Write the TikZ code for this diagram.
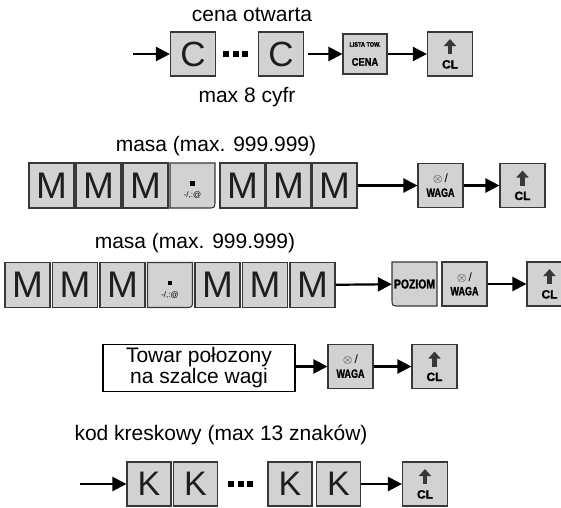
\documentclass[tikz,border=0pt]{standalone}
\usepackage{fontspec}
\setmainfont{Liberation Sans}
\newfontfamily\keyfont{Liberation Sans}[BoldFeatures={FakeBold=1.6}]
\usepackage{graphicx}
\usetikzlibrary{arrows.meta,positioning}

\definecolor{keygray}{HTML}{D2D2D2}
\definecolor{keyline}{HTML}{383838}
\definecolor{inkgray}{HTML}{1E1E1E}

\newcommand{\dotrow}{\rule{6pt}{6pt}\hspace{3.5pt}\rule{6pt}{6pt}\hspace{3.5pt}\rule{6pt}{6pt}}
\newcommand{\wagatext}{{\fontsize{12}{12}\selectfont$\otimes$\,/}\\[1pt]%
  \scalebox{0.75}[1]{\fontsize{12}{12}\selectfont\keyfont\bfseries WAGA}}

\tikzset{
  keyface/.style={draw=keyline,fill=keygray,line width=1.1pt},
  key/.style={keyface,minimum width=45pt,minimum height=45pt,inner sep=0pt,
    font=\fontsize{37}{37}\selectfont,text=inkgray},
  bare/.style={minimum width=45pt,minimum height=45pt,inner sep=0pt},
  fkey/.style={keyface,minimum width=45pt,minimum height=44pt,inner sep=0pt,
    align=center,font=\fontsize{10}{13}\selectfont},
  clkey/.style={keyface,minimum width=45pt,minimum height=44pt,inner sep=0pt,
    text height=29pt,text depth=0pt,font=\fontsize{12}{12}\selectfont\keyfont\bfseries,
    path picture={\draw[line width=4.5pt,-{Triangle[length=7pt,width=12pt]}]
      (path picture bounding box.center) --
      ([yshift=15pt]path picture bounding box.center);}},
  flow/.style={line width=2.2pt,-{Triangle[length=14pt,width=14pt]}},
  caption/.style={font=\fontsize{21}{21}\selectfont},
  dotface/.pic={
    \filldraw[keyface] (-22.5,-22.5) -- (22.5,-22.5) -- (22.5,15)
      .. controls (22.5,22.5) .. (15,22.5) -- (-22.5,22.5) -- cycle;
    \fill (-2.3,-4.3) rectangle (2.3,0.3);},
  pozface/.pic={
    \filldraw[keyface] (-22.5,-22) -- (22.5,-22) -- (22.5,22) -- (-15,22)
      .. controls (-22.5,22) .. (-22.5,14.5) -- cycle;}
}

\begin{document}
\begin{tikzpicture}[x=1pt,y=-1pt]
\useasboundingbox (0,0) rectangle (561,507);

% cena otwarta
\node[caption] (r1top) at (252,15) {cena otwarta};
\coordinate (r1in) at (133,54);
\node[key,minimum height=44pt,font=\fontsize{35}{35}\selectfont] (r1c1) at (193,54) {C};
\node (r1dots) at (235.5,54) {\dotrow};
\node[key,minimum height=44pt,font=\fontsize{35}{35}\selectfont] (r1c2) at (281,54) {C};
\node[fkey,minimum height=40pt,minimum width=44pt] (r1cena) at (365,54)
  {\scalebox{0.85}[1]{\fontsize{6.5}{6.5}\selectfont\keyfont\bfseries LISTA TOW.}\\[6pt]
   \scalebox{0.85}[1]{\fontsize{11}{11}\selectfont\keyfont\bfseries CENA}};
\node[clkey] (r1cl) at (450,54) {CL};
\node[caption] (r1bot) at (247,97) {max 8 cyfr};
\draw[flow] (r1in) -- (r1c1);
\draw[flow,shorten <=4pt] (r1c2) -- (r1cena);
\draw[flow] (r1cena) -- (r1cl);

% masa, waga
\node[caption] (r2top) at (216,146) {masa (max. 999.999)};
\foreach \i/\x in {1/51.5,2/98.5,3/145.5,5/242.5,6/288.5,7/334.5}
  \node[key] (r2m\i) at (\x,185.5) {M};
\pic at (192.5,185.5) {dotface};
\node[bare,text height=24pt,text depth=0pt,font=\fontsize{8}{8}\selectfont]
  (r2m4) at (192.5,185.5) {-/,:@};
\node[fkey] (r2waga) at (440.5,185.5) {\wagatext};
\node[clkey] (r2cl) at (522.5,185.5) {CL};
\draw[flow] (r2m7) -- (r2waga);
\draw[flow] (r2waga) -- (r2cl);

% masa, poziom, waga
\node[caption] (r3top) at (195,243) {masa (max. 999.999)};
\foreach \i/\x in {1/27.5,2/75,3/122.5,5/217.5,6/265,7/312.5}
  \node[key] (r3m\i) at (\x,285) {M};
\pic at (170,285) {dotface};
\node[bare,text height=24pt,text depth=0pt,font=\fontsize{8}{8}\selectfont]
  (r3m4) at (170,285) {-/,:@};
\pic at (414.5,284) {pozface};
\node[bare,minimum width=45pt,minimum height=44pt] (r3poz) at (414.5,284)
  {\scalebox{0.8}[1]{\fontsize{13}{13}\selectfont\keyfont\bfseries POZIOM}};
\node[fkey] (r3waga) at (464.5,284) {\wagatext};
\node[clkey] (r3cl) at (549.5,284) {CL};
\draw[flow] (r3m7) -- (r3poz);
\draw[flow] (r3waga) -- (r3cl);

% towar na wadze
\node[draw=black,line width=1.2pt,fill=white,minimum width=192pt,minimum height=47pt,
  inner sep=0pt,align=center,font=\fontsize{21}{21}\selectfont] (r4box) at (199,368)
  {Towar połozony\\na szalce wagi};
\node[fkey] (r4waga) at (350.5,366.5) {\wagatext};
\node[clkey] (r4cl) at (434.5,366.5) {CL};
\draw[flow] (r4box.east |- r4waga) -- (r4waga);
\draw[flow] (r4waga) -- (r4cl);

% kod kreskowy
\node[caption] (r5top) at (221,435) {kod kreskowy (max 13 znaków)};
\coordinate (r5in) at (80,484);
\node[key,minimum height=44pt,minimum width=44pt,font=\fontsize{34}{34}\selectfont] (r5k1) at (149,484) {K};
\node[key,minimum height=44pt,minimum width=44pt,font=\fontsize{34}{34}\selectfont] (r5k2) at (195.5,484) {K};
\node (r5dots) at (240.5,484) {\dotrow};
\node[key,minimum height=44pt,minimum width=44pt,font=\fontsize{34}{34}\selectfont] (r5k3) at (290,484) {K};
\node[key,minimum height=44pt,minimum width=44pt,font=\fontsize{34}{34}\selectfont] (r5k4) at (338.5,484) {K};
\node[clkey] (r5cl) at (425,484) {CL};
\draw[flow] (r5in) -- (r5k1);
\draw[flow] (r5k4) -- (r5cl);
\end{tikzpicture}
\end{document}
